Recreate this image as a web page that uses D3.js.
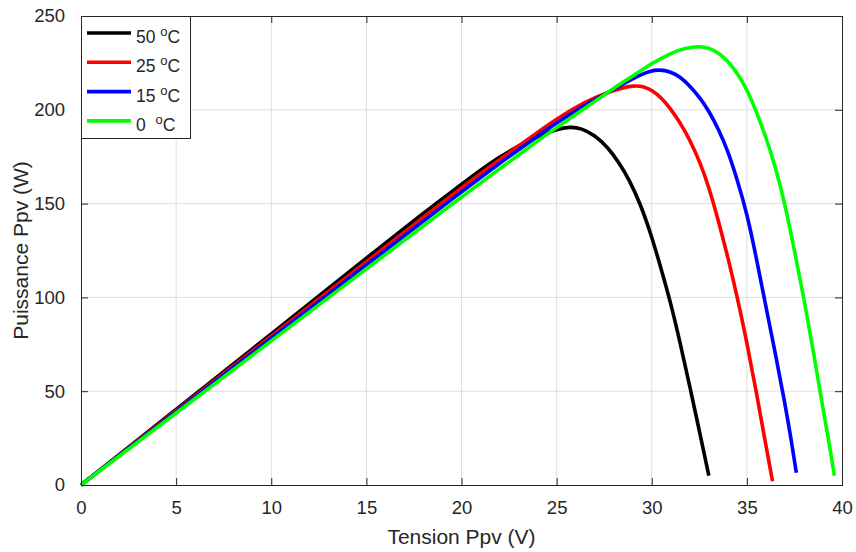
<!DOCTYPE html>
<html>
<head>
<meta charset="utf-8">
<script src="https://cdn.jsdelivr.net/npm/d3@7"></script>
<style>
  html, body { margin: 0; padding: 0; background: #fff; }
  svg { display: block; font-family: "Liberation Sans", Arial, sans-serif; }
</style>
</head>
<body>
<svg id="chart"></svg>
<script>
// tension (V) / puissance (W)
const v50 = [0, 5, 10, 15, 18, 20, 21, 22, 23, 24, 25, 25.7, 26.3, 27, 27.7, 28.3, 28.8, 29.4, 30, 30.5, 31, 31.5, 32, 32.5, 33];
const p50 = [0, 40.3, 80.5, 121, 145, 160.3, 168, 174.8, 180.8, 185.8, 189.6, 191, 190.2, 186.5, 180, 171.5, 163, 150, 132.5, 115, 97, 75.5, 52.5, 29, 5];

const v25 = [0, 5, 10, 15, 20, 22, 24, 25, 26, 27, 28, 29.07, 29.6, 30, 30.5, 31, 31.5, 32, 32.5, 33, 33.5, 34, 34.5, 35, 35.5, 36, 36.35];
const p25 = [0, 39.7, 79.3, 119, 158.7, 173.5, 188, 195, 201.5, 206.5, 210.5, 213.2, 212.3, 210.5, 206.5, 200.5, 193, 184, 173, 159, 141, 121.5, 100, 76, 49.5, 21, 2];

const v15 = [0, 5, 10, 15, 20, 22, 24, 25, 26, 27, 28, 28.7, 29.4, 29.9, 30.4, 31, 31.5, 32, 32.5, 33, 33.5, 34, 34.5, 35, 35.5, 36, 36.5, 37, 37.3, 37.6];
const p15 = [0, 39.1, 78.2, 117.3, 156.4, 171.5, 186, 193, 199.5, 205.3, 211, 214.8, 218.6, 220.6, 221.5, 220.3, 217.6, 212.8, 206.8, 199.5, 189.8, 178.2, 162.5, 145, 121, 95, 70, 43.5, 26, 6.5];

const v0 = [0, 5, 10, 15, 20, 22, 24, 25, 26, 27, 28, 29, 30, 31, 31.7, 32.5, 33, 33.5, 34, 34.5, 35, 35.5, 36, 36.5, 37, 37.5, 38, 38.5, 39, 39.3, 39.6];
const p0 = [0, 38.4, 76.8, 115.2, 153.6, 168.5, 183.5, 190.5, 197.5, 204.5, 211.5, 218, 224.8, 230.2, 232.7, 234, 233, 230.5, 226, 219.5, 211, 199, 185.5, 169.5, 150, 125, 99.5, 71, 40.5, 24, 5];

const seriesNames = ['50', '25', '15', '0 '];
const seriesColors = ['#000000', '#ff0000', '#0000ff', '#00ff00'];
const xTicks = [0, 5, 10, 15, 20, 25, 30, 35, 40];
const yTicks = [0, 50, 100, 150, 200, 250];

const series = [[v50, p50], [v25, p25], [v15, p15], [v0, p0]].map(([v, p], i) => ({
  name: seriesNames[i],
  color: seriesColors[i],
  values: v.map((d, j) => [d, p[j]])
}));

const width = 856;
const height = 552;
const margin = { top: 16, right: 14, bottom: 67, left: 81 };
const ink = '#262626';

const svg = d3.select('#chart').attr('width', width).attr('height', height);

const x = d3.scaleLinear().domain([0, 40]).range([margin.left, width - margin.right]);
const y = d3.scaleLinear().domain([0, 250]).range([height - margin.bottom, margin.top]);

// grid
svg.append('g')
  .selectAll('line')
  .data(xTicks.slice(1, -1))
  .join('line')
  .attr('x1', d => x(d)).attr('x2', d => x(d))
  .attr('y1', y(0)).attr('y2', y(250))
  .attr('stroke', '#dedede')
  .attr('stroke-width', 1);

svg.append('g')
  .selectAll('line')
  .data(yTicks.slice(1, -1))
  .join('line')
  .attr('x1', x(0)).attr('x2', x(40))
  .attr('y1', d => y(d)).attr('y2', d => y(d))
  .attr('stroke', '#dedede')
  .attr('stroke-width', 1);

// curves
const line = d3.line()
  .x(d => x(d[0]))
  .y(d => y(d[1]))
  .curve(d3.curveBasis);

svg.append('g')
  .selectAll('path')
  .data(series)
  .join('path')
  .attr('d', d => line(d.values))
  .attr('fill', 'none')
  .attr('stroke', d => d.color)
  .attr('stroke-width', 3.6)
  .attr('stroke-linejoin', 'round');

// axes (box with inward ticks on all sides)
const tickLen = 7;
const styleAxis = g => {
  g.select('.domain').remove();
  g.selectAll('.tick line').attr('stroke', ink);
  g.selectAll('.tick text').attr('fill', ink).style('font-size', '18.5px');
};

svg.append('g')
  .attr('transform', `translate(0,${y(0)})`)
  .call(d3.axisBottom(x).tickValues(xTicks).tickSizeInner(-tickLen).tickPadding(16))
  .call(styleAxis);

svg.append('g')
  .attr('transform', `translate(${x(0)},0)`)
  .call(d3.axisLeft(y).tickValues(yTicks).tickSizeInner(-tickLen).tickPadding(16))
  .call(styleAxis);

svg.append('g')
  .attr('transform', `translate(0,${y(250)})`)
  .call(d3.axisTop(x).tickValues(xTicks).tickSizeInner(-tickLen).tickFormat(''))
  .call(styleAxis);

svg.append('g')
  .attr('transform', `translate(${x(40)},0)`)
  .call(d3.axisRight(y).tickValues(yTicks).tickSizeInner(-tickLen).tickFormat(''))
  .call(styleAxis);

svg.append('rect')
  .attr('x', x(0) + 0.5)
  .attr('y', y(250) + 0.5)
  .attr('width', x(40) - x(0))
  .attr('height', y(0) - y(250))
  .attr('fill', 'none')
  .attr('stroke', ink)
  .attr('stroke-width', 1);

// axis labels
svg.append('text')
  .attr('x', (x(0) + x(40)) / 2)
  .attr('y', 544)
  .attr('text-anchor', 'middle')
  .attr('fill', ink)
  .style('font-size', '21px')
  .text('Tension Ppv (V)');

svg.append('text')
  .attr('transform', `translate(28,${(y(0) + y(250)) / 2}) rotate(-90)`)
  .attr('text-anchor', 'middle')
  .attr('fill', ink)
  .style('font-size', '21px')
  .text('Puissance Ppv (W)');

// legend
const legend = svg.append('g').attr('transform', `translate(${x(0)},${y(250)})`);

legend.append('rect')
  .attr('x', 0.5).attr('y', 0.5)
  .attr('width', 109).attr('height', 122)
  .attr('fill', '#fff')
  .attr('stroke', ink)
  .attr('stroke-width', 1);

const rows = legend.selectAll('g.row')
  .data(series)
  .join('g')
  .attr('class', 'row')
  .attr('transform', (d, i) => `translate(0,${17 + i * 29.3})`);

rows.append('line')
  .attr('x1', 6).attr('x2', 50)
  .attr('stroke', d => d.color)
  .attr('stroke-width', 3.6);

const label = rows.append('text')
  .attr('x', 55)
  .attr('y', 10)
  .attr('fill', ink)
  .style('font-size', '17.5px')
  .style('white-space', 'pre');

label.append('tspan').text(d => d.name + ' ');
label.append('tspan').attr('dy', -7).style('font-size', '13px').text('o');
label.append('tspan').attr('dy', 7).text('C');
</script>
</body>
</html>
